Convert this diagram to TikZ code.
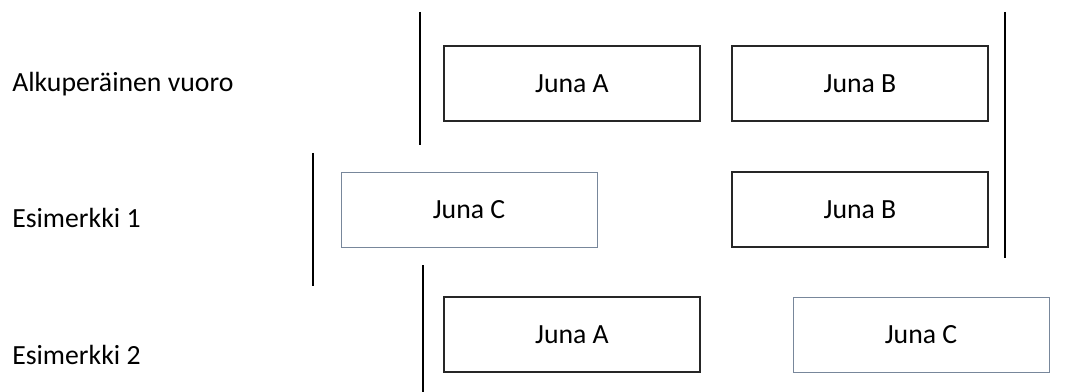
\documentclass[tikz,border=0pt]{standalone}
\usepackage{fontspec}
\setmainfont{Carlito}
\begin{document}
\begin{tikzpicture}[x=0.75pt,y=-0.75pt,
  box/.style={draw=black!85,line width=0.8pt,minimum width=256*0.75pt,minimum height=75*0.75pt,inner sep=0pt,font=\fontsize{20.8}{24}\selectfont,text=black},
  cbox/.style={box,draw={rgb,255:red,120;green,135;blue,155},line width=0.6pt},
  lbl/.style={anchor=base west,inner sep=0pt,font=\fontsize{20.8}{24}\selectfont,text=black},
  bar/.style={line width=1.5pt,black}]
\useasboundingbox (0,0) rectangle (1066,392);
% labels
\node[lbl] (l1) at (12,92) {Alkuperäinen vuoro};
\node[lbl] (l2) at (12,227) {Esimerkki 1};
\node[lbl] (l3) at (12,364) {Esimerkki 2};
% row 1
\node[box] (a1) at (572,83.5) {Juna A};
\node[box] (b1) at (860,83.5) {Juna B};
% row 2
\node[cbox] (c2) at (469,209.5) {Juna C};
\node[box] (b2) at (860,209.5) {Juna B};
% row 3
\node[box] (a3) at (572,334.5) {Juna A};
\node[cbox] (c3) at (921,334.5) {Juna C};
% bars
\coordinate (p1) at (420,12); \coordinate (p2) at (420,145);
\coordinate (q1) at (1005,12); \coordinate (q2) at (1005,258);
\coordinate (r1) at (313,153); \coordinate (r2) at (313,286);
\coordinate (s1) at (423,265); \coordinate (s2) at (423,392);
\draw[bar] (p1) -- (p2);
\draw[bar] (q1) -- (q2);
\draw[bar] (r1) -- (r2);
\draw[bar] (s1) -- (s2);
\end{tikzpicture}
\end{document}
